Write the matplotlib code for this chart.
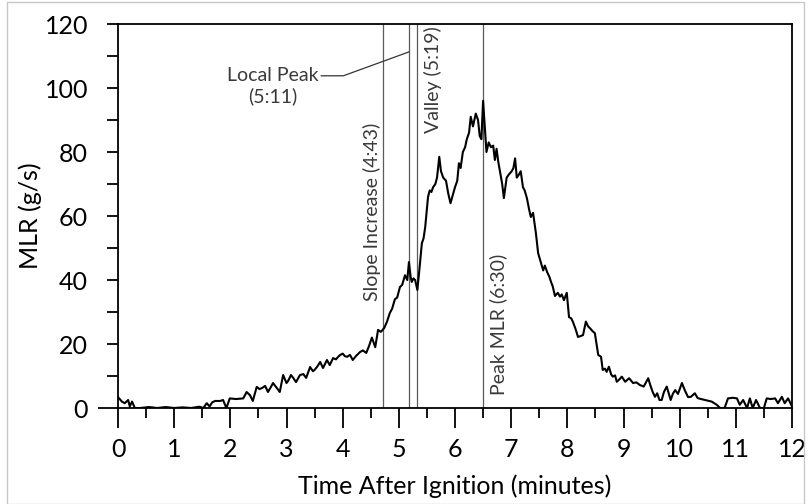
import matplotlib
matplotlib.use("Agg")
import matplotlib.pyplot as plt
from matplotlib.ticker import MultipleLocator
from matplotlib.patches import Rectangle

time_min = [0, 0.07, 0.12, 0.18, 0.21, 0.25, 0.3, 0.4, 0.55, 0.7, 0.85, 1.0, 1.15, 1.3, 1.45, 1.52,
            1.58, 1.63, 1.68, 1.73, 1.82, 1.87, 1.93, 1.99, 2.1, 2.23, 2.29, 2.35, 2.4, 2.47, 2.52,
            2.57, 2.62, 2.67, 2.72, 2.76, 2.83, 2.88, 2.94, 3.0, 3.03, 3.08, 3.12, 3.17, 3.24, 3.3,
            3.35, 3.42, 3.47, 3.5, 3.55, 3.6, 3.65, 3.72, 3.77, 3.83, 3.88, 3.92, 3.95, 4.0, 4.04,
            4.08, 4.13, 4.18, 4.24, 4.31, 4.36, 4.42, 4.47, 4.52, 4.58, 4.63, 4.68, 4.74, 4.79, 4.84,
            4.88, 4.93, 4.97, 5.02, 5.06, 5.11, 5.15, 5.18, 5.21, 5.23, 5.26, 5.29, 5.33, 5.37, 5.41,
            5.44, 5.47, 5.52, 5.55, 5.58, 5.61, 5.65, 5.68, 5.72, 5.75, 5.79, 5.84, 5.88, 5.92, 5.96,
            6.0, 6.04, 6.07, 6.1, 6.14, 6.18, 6.21, 6.25, 6.28, 6.32, 6.37, 6.41, 6.44, 6.47, 6.5,
            6.53, 6.56, 6.6, 6.64, 6.68, 6.71, 6.74, 6.77, 6.8, 6.84, 6.87, 6.92, 6.96, 7.01, 7.04,
            7.07, 7.1, 7.14, 7.17, 7.21, 7.24, 7.28, 7.32, 7.35, 7.39, 7.44, 7.48, 7.52, 7.57, 7.6,
            7.64, 7.68, 7.71, 7.74, 7.78, 7.83, 7.87, 7.9, 7.94, 7.99, 8.03, 8.07, 8.1, 8.15, 8.19,
            8.24, 8.28, 8.33, 8.37, 8.4, 8.45, 8.49, 8.55, 8.6, 8.63, 8.67, 8.7, 8.74, 8.78, 8.81,
            8.85, 8.88, 8.93, 8.97, 9.03, 9.1, 9.17, 9.23, 9.29, 9.36, 9.4, 9.44, 9.48, 9.52, 9.56,
            9.6, 9.64, 9.68, 9.72, 9.77, 9.84, 9.88, 9.92, 9.97, 10.04, 10.09, 10.15, 10.2, 10.27,
            10.32, 10.38, 10.45, 10.57, 10.66, 10.72, 10.8, 10.86, 10.95, 11.02, 11.07, 11.13, 11.2,
            11.25, 11.3, 11.36, 11.43, 11.5, 11.55, 11.62, 11.7, 11.75, 11.82, 11.87, 11.93, 12.0]

mlr_gs = [3.4, 2.0, 1.5, 2.5, 0.5, 2.0, 0, 0, 0.3, 0, 0.3, 0, 0.2, 0, 0.4, 0,
          1.5, 0.5, 1.8, 2.2, 2.2, 2.5, 0, 3.0, 2.8, 3.0, 5.0, 4.0, 2.2, 6.6, 5.9,
          6.3, 6.9, 5.0, 6.5, 7.8, 6.2, 5.0, 10.3, 7.8, 8.5, 10.3, 9.4, 8.1, 10.3, 10.6,
          9.4, 12.8, 11.5, 11.9, 13.0, 14.4, 12.5, 15.0, 13.4, 15.6, 15.2, 16.0, 16.5, 17.0, 16.2,
          16.0, 16.6, 15.0, 16.3, 17.5, 18.0, 17.2, 19.4, 22.0, 19.0, 24.4, 23.8, 25.0, 27.0, 29.7,
          31.0, 34.0, 34.5, 37.8, 38.5, 41.5, 40.0, 45.6, 41.0, 39.4, 40.5, 40.0, 36.9, 44.0, 51.5,
          53.0, 56.6, 66.0, 68.0, 67.5, 69.0, 70.0, 72.0, 78.5, 74.0, 72.0, 71.0, 67.0, 64.0, 66.5,
          69.0, 71.0, 76.5, 75.0, 80.0, 81.5, 84.0, 86.0, 91.0, 88.0, 92.0, 90.0, 85.0, 84.0, 96.0,
          88.0, 80.0, 83.0, 81.5, 82.0, 77.5, 81.0, 77.0, 74.0, 70.0, 65.6, 72.0, 73.0, 74.0, 75.0,
          78.0, 72.0, 73.0, 74.0, 69.0, 68.0, 65.6, 62.0, 59.7, 61.0, 54.7, 48.4, 46.0, 43.0, 44.5,
          42.5, 41.0, 39.4, 38.0, 35.0, 36.0, 34.8, 35.5, 33.7, 36.0, 28.4, 28.0, 26.9, 24.5, 22.2,
          22.5, 22.8, 27.0, 25.5, 25.0, 24.0, 23.4, 16.6, 16.0, 11.9, 12.3, 11.3, 12.9, 10.5, 9.8,
          10.2, 8.2, 9.0, 9.8, 8.2, 9.3, 7.8, 8.0, 7.2, 6.7, 8.0, 9.3, 7.0, 5.0, 3.5,
          4.6, 2.5, 2.5, 5.0, 6.7, 2.5, 4.5, 5.6, 4.4, 7.8, 5.6, 3.4, 3.5, 4.6,
          3.1, 2.8, 2.5, 2.0, 1.0, 0, 0, 3.0, 3.2, 3.0, 1.0, 2.5, 0,
          3.0, 0, 2.5, 0, 0, 3.0, 2.8, 3.0, 1.5, 3.5, 1.5, 3.0, 0.5]

event_times = [4 + 43 / 60, 5 + 11 / 60, 5 + 19 / 60, 6 + 30 / 60]
event_labels = ["Slope Increase (4:43)", "Local Peak\n(5:11)", "Valley (5:19)", "Peak MLR (6:30)"]

x_ticks = list(range(0, 13))
y_ticks = list(range(0, 121, 20))

plt.rcParams['font.family'] = ['Lato', 'DejaVu Sans']

fig = plt.figure(figsize=(8.09, 5.04), dpi=100)
ax = fig.add_axes([118 / 809, 1 - 408 / 504, (792 - 118) / 809, (408 - 24) / 504])

for t in event_times:
    ax.axvline(t, color='#5a5a5a', lw=0.9, zorder=1)

ax.plot(time_min, mlr_gs, color='black', lw=1.5, zorder=3)

ax.set_xlim(0, 12)
ax.set_ylim(0, 120)
ax.set_xticks(x_ticks)
ax.set_yticks(y_ticks)
ax.xaxis.set_minor_locator(MultipleLocator(0.5))
ax.yaxis.set_minor_locator(MultipleLocator(10))
ax.tick_params(axis='x', which='major', direction='out', length=14.4, width=1.3, labelsize=18, pad=7)
ax.tick_params(axis='x', which='minor', direction='out', length=7.2, width=1.3)
ax.tick_params(axis='y', which='both', direction='out', length=8, width=1.3, labelsize=18, pad=13.5)
ax.yaxis.get_major_ticks()[0].tick1line.set_markersize(14.4)
for s in ax.spines.values():
    s.set_linewidth(1.3)

ax.set_xlabel("Time After Ignition (minutes)", fontsize=18)
ax.xaxis.set_label_coords(0.5, -0.172)
ax.set_ylabel("MLR (g/s)", fontsize=18)
ax.yaxis.set_label_coords(-0.113, 0.5)

ann = dict(fontsize=14, color='#3a3a3a', rotation=90)
ax.text(4.53, 33.5, event_labels[0], ha='center', va='bottom', **ann)
ax.text(5.61, 86, event_labels[2], ha='center', va='bottom', **ann)
ax.text(6.77, 4, event_labels[3], ha='center', va='bottom', **ann)

ax.annotate(event_labels[1], xy=(event_times[1], 111.3), xytext=(2.75, 100.5),
            ha='center', va='center', fontsize=14, color='#3a3a3a',
            multialignment='center',
            arrowprops=dict(arrowstyle='-', color='#333333', lw=0.9, shrinkA=0, shrinkB=0,
                            relpos=(1.0, 0.78), connectionstyle='angle,angleA=0,angleB=-160,rad=0'))

fig.patches.append(Rectangle((7 / 809, 0.5 / 504), 797 / 809, 502 / 504, transform=fig.transFigure,
                             fill=False, edgecolor='#c8c8c8', lw=1.0))

fig.savefig("out.png", dpi=100)
